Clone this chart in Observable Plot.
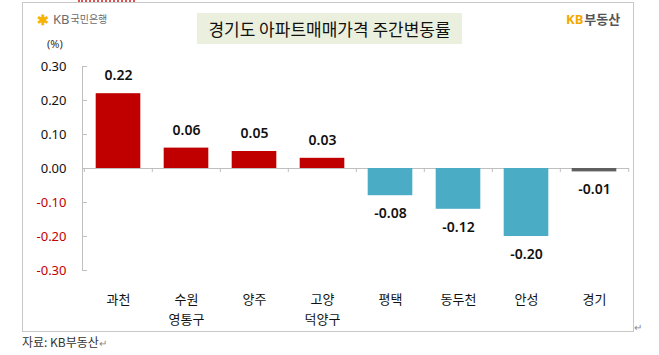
<!DOCTYPE html>
<html>
<head>
<meta charset="utf-8">
<script src="https://cdn.jsdelivr.net/npm/d3@7"></script>
<script src="https://cdn.jsdelivr.net/npm/@observablehq/plot@0.6"></script>
<style>
  html, body { margin: 0; padding: 0; background: #fff; }
  #wrap { position: relative; width: 659px; height: 355px; overflow: hidden; font-family: "Noto Sans CJK KR", "Noto Sans", sans-serif; }
  #wrap svg { position: absolute; left: 0; top: 0; }
  .ov { position: absolute; white-space: nowrap; line-height: 1; }
</style>
</head>
<body>
<div id="wrap"></div>
<script>
// ---- data ----
const categories = ["과천", "수원 영통구", "양주", "고양 덕양구", "평택", "동두천", "안성", "경기"];
const tickLabels = ["과천", "수원\n영통구", "양주", "고양\n덕양구", "평택", "동두천", "안성", "경기"];
const values = [0.22, 0.06, 0.05, 0.03, -0.08, -0.12, -0.20, -0.01];
const groups = ["up", "up", "up", "up", "down", "down", "down", "total"];
const yTicksPos = [0, 0.1, 0.2, 0.3];
const yTicksNeg = [-0.1, -0.2, -0.3];
const title = "경기도 아파트매매가격 주간변동률";
const unitLabel = "(%)";
const source = "자료: KB부동산";

const data = categories.map((c, i) => ({cat: c, value: values[i], group: groups[i]}));
const labelOf = new Map(categories.map((c, i) => [c, tickLabels[i]]));
const allTicks = [...yTicksPos, ...yTicksNeg];

const W = 659, H = 355;
const mL = 82, mR = 30, mT = 66, mB = 85;
const plotW = W - mL - mR;
const step = plotW / categories.length;
const barInset = (step - 45) / 2;

const chart = Plot.plot({
  width: W,
  height: H,
  marginLeft: mL,
  marginRight: mR,
  marginTop: mT,
  marginBottom: mB,
  style: {fontFamily: "'Noto Sans', 'Noto Sans CJK KR', sans-serif", background: "transparent", overflow: "visible"},
  x: {domain: categories, padding: 0, axis: null},
  y: {domain: [-0.3, 0.3], axis: null},
  color: {domain: ["up", "down", "total"], range: ["#c00000", "#4bacc6", "#5f5f5f"]},
  marks: [
    Plot.frame({anchor: "left", stroke: "#bfbfbf"}),
    Plot.tickY(allTicks, {y: d => d, stroke: "#bfbfbf", insetRight: plotW - 5}),
    Plot.ruleY([0], {stroke: "#bfbfbf"}),
    Plot.ruleX(categories, {x: d => d, y1: 0, y2: 0, insetBottom: -4, dx: -step / 2, stroke: "#bfbfbf"}),
    Plot.ruleX(categories.slice(-1), {x: d => d, y1: 0, y2: 0, insetBottom: -4, dx: step / 2, stroke: "#bfbfbf"}),
    Plot.barY(data, {x: "cat", y: "value", fill: "group", insetLeft: barInset, insetRight: barInset}),
    Plot.text(data.filter(d => d.value >= 0), {x: "cat", y: "value", text: d => d.value.toFixed(2), dy: -18, fontSize: 14, fontWeight: 600, fill: "#111"}),
    Plot.text(data.filter(d => d.value < 0), {x: "cat", y: "value", text: d => d.value.toFixed(2), dy: 18, fontSize: 14, fontWeight: 600, fill: "#111"}),
    Plot.axisY(yTicksPos, {tickSize: 0, tickPadding: 16, tickFormat: d => d.toFixed(2), fontSize: 13, fill: "#111", label: null}),
    Plot.axisY(yTicksNeg, {tickSize: 0, tickPadding: 16, tickFormat: d => d.toFixed(2), fontSize: 13, fill: "#c00000", label: null}),
    Plot.axisX({tickSize: 0, tickPadding: 19, tickFormat: d => labelOf.get(d), fontSize: 13, lineHeight: 1.55, fill: "#111", label: null, fontFamily: "'Noto Sans CJK KR', sans-serif"})
  ]
});

const wrap = document.getElementById("wrap");

function ov(html, css) {
  const el = document.createElement("div");
  el.className = "ov";
  el.innerHTML = html;
  Object.assign(el.style, css);
  wrap.appendChild(el);
  return el;
}

// outer frame
ov("", {left: "22px", top: "2px", width: "610px", height: "328px", border: "1px solid #c8c8c8", boxSizing: "content-box"});
// red dotted squiggle at top
ov("", {left: "78px", top: "0px", width: "57px", height: "0px", borderTop: "2px dotted #e05050"});

wrap.appendChild(chart);

// title box
ov(title, {left: "197px", top: "13px", width: "265px", height: "31px", background: "#ebf0de", fontSize: "17px", color: "#111", display: "flex", alignItems: "center", justifyContent: "center", fontFamily: "'Noto Sans CJK KR', sans-serif"});

// KB bank logo (top-left)
ov("<span style='color:#f5b400;font-size:14px;font-weight:bold'>✱</span>" +
   "<span style='color:#6b6b6b;font-size:13px;margin-left:4px;font-family:\"Noto Sans\",sans-serif'>KB</span>" +
   "<span style='color:#6b6b6b;font-size:10px;margin-left:1px'>국민은행</span>",
   {left: "37px", top: "11px", display: "flex", alignItems: "center", height: "16px"});

// KB 부동산 logo (top-right)
ov("<span style='color:#f2a900;font-weight:bold;font-family:\"Noto Sans\",sans-serif'>KB</span><span style='color:#555;font-weight:bold;margin-left:1px'>부동산</span>",
   {left: "566px", top: "12px", fontSize: "13px"});

// unit label
ov(unitLabel, {left: "47px", top: "38px", fontSize: "11px", color: "#333", fontFamily: "'Noto Sans', sans-serif"});

// paragraph mark at frame corner
ov("↵", {left: "634px", top: "322px", fontSize: "10px", color: "#888"});

// caption
ov(source + "<span style='color:#888;font-size:10px'>↵</span>", {left: "22px", top: "336px", fontSize: "12px", color: "#333"});
</script>
</body>
</html>
